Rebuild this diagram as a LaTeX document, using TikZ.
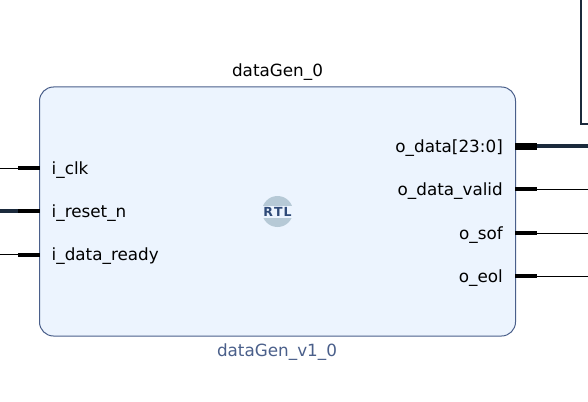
\documentclass[tikz,border=0pt]{standalone}
\usepackage{fontspec}
\setmainfont{DejaVu Sans}
\usepackage{xcolor}
\definecolor{blockfill}{HTML}{ECF4FE}
\definecolor{blockline}{HTML}{4A5F8A}
\definecolor{wirecol}{HTML}{1B2A3C}
\definecolor{rtlcol}{HTML}{B6C9D6}
\definecolor{rtltext}{HTML}{2F4A78}
\tikzset{
  portlabel/.style={inner sep=0pt,font=\fontsize{16.8}{20}\selectfont,text=black},
  stub/.style={line width=4pt,black},
  busstub/.style={line width=7pt,black},
  wire/.style={line width=1pt,black},
  buswire/.style={line width=3.5pt,wirecol},
}
\begin{document}
\begin{tikzpicture}[x=1pt,y=-1pt]
    \useasboundingbox (0,0) rectangle (588,401);
    % block
    \node[draw=blockline,fill=blockfill,line width=1pt,rounded corners=14pt,minimum width=476pt,minimum height=249pt,inner sep=0pt] (dataGen) at (277.5,211.5) {};
    \node[inner sep=0pt,font=\fontsize{16.8}{20}\selectfont] (instname) at (277.5,72) {dataGen\_0};
    \node[inner sep=0pt,font=\fontsize{16.8}{20}\selectfont,text=blockline] (modname) at (277,352.5) {dataGen\_v1\_0};
    % rtl mark
    \node[circle,fill=rtlcol,minimum size=31pt,inner sep=0pt] (rtlmark) at (277.5,211.5) {};
    \node[fill=blockfill,minimum width=32pt,minimum height=12pt,inner sep=0pt,text=rtltext,font=\fontsize{12.5}{13}\bfseries\selectfont] (rtltext) at (277.5,211.5) {R\kern1pt T\kern1pt L};
    % inputs
    \coordinate (clkin) at (0,168);
    \coordinate (rstin) at (0,211);
    \coordinate (rdyin) at (0,254.5);
    \coordinate (clkpin) at (18,168);
    \coordinate (rstpin) at (18,211);
    \coordinate (rdypin) at (18,254.5);
    \coordinate (clkend) at (40,168);
    \coordinate (rstend) at (40,211);
    \coordinate (rdyend) at (40,254.5);
    \draw[wire] (clkin) -- (clkpin);
    \draw[buswire] (rstin) -- (rstpin);
    \draw[wire] (rdyin) -- (rdypin);
    \draw[stub] (clkpin) -- (clkend);
    \draw[stub] (rstpin) -- (rstend);
    \draw[stub] (rdypin) -- (rdyend);
    \node[portlabel,anchor=base west] (iclk) at (51.5,174) {i\_clk};
    \node[portlabel,anchor=base west] (irst) at (51.5,217) {i\_reset\_n};
    \node[portlabel,anchor=base west] (irdy) at (51.5,260) {i\_data\_ready};
    % outputs
    \coordinate (dataend) at (515,146);
    \coordinate (validend) at (515,189);
    \coordinate (sofend) at (515,233);
    \coordinate (eolend) at (515,276);
    \coordinate (datapin) at (537,146);
    \coordinate (validpin) at (537,189);
    \coordinate (sofpin) at (537,233);
    \coordinate (eolpin) at (537,276);
    \coordinate (dataout) at (588,146);
    \coordinate (validout) at (588,189);
    \coordinate (sofout) at (588,233);
    \coordinate (eolout) at (588,276);
    \draw[buswire] (datapin) -- (dataout);
    \draw[wire] (validpin) -- (validout);
    \draw[wire] (sofpin) -- (sofout);
    \draw[wire] (eolpin) -- (eolout);
    \draw[busstub] (dataend) -- (datapin);
    \draw[stub] (validend) -- (validpin);
    \draw[stub] (sofend) -- (sofpin);
    \draw[stub] (eolend) -- (eolpin);
    \node[portlabel,anchor=base east] (odata) at (503,152) {o\_data[23:0]};
    \node[portlabel,anchor=base east] (ovalid) at (503,195) {o\_data\_valid};
    \node[portlabel,anchor=base east] (osof) at (503,239) {o\_sof};
    \node[portlabel,anchor=base east] (oeol) at (503,282) {o\_eol};
    % next block, cut off by the frame
    \draw[line width=1.2pt,wirecol] (581,0) -- (581,124) -- (588,124);
\end{tikzpicture}
\end{document}
